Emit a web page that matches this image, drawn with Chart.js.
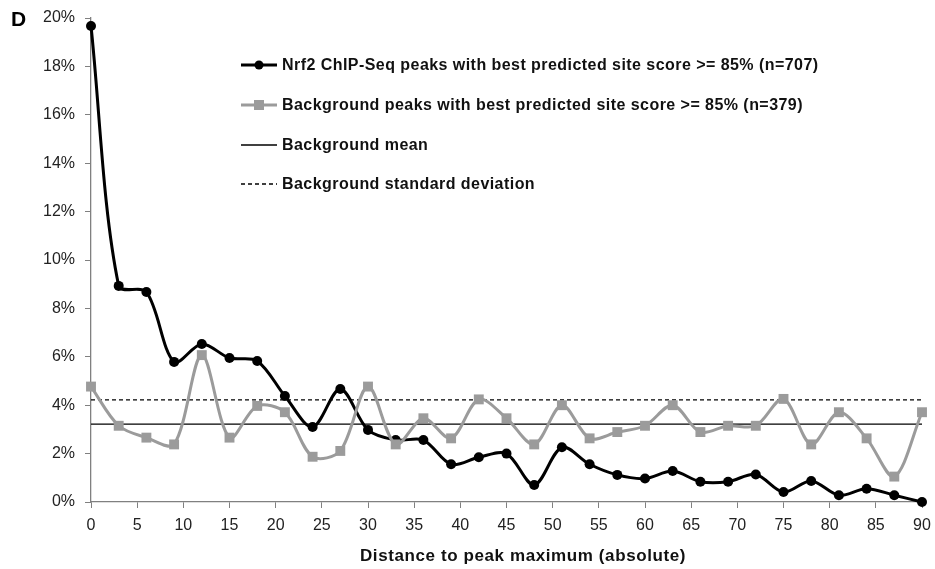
<!DOCTYPE html>
<html>
<head>
<meta charset="utf-8">
<script src="https://cdn.jsdelivr.net/npm/chart.js@4.4.1/dist/chart.umd.min.js"></script>
<style>
  html, body { margin: 0; padding: 0; background: #fff; }
  #wrap { width: 935px; height: 569px; position: relative; }
</style>
</head>
<body>
<div id="wrap"><canvas id="c" width="935" height="569"></canvas></div>
<script>
const distances = [0,3,6,9,12,15,18,21,24,27,30,33,36,39,42,45,48,51,54,57,60,63,66,69,72,75,78,81,84,87,90];
const nrf2Values = [19.67,8.93,8.68,5.79,6.53,5.95,5.83,4.38,3.10,4.67,2.98,2.56,2.56,1.56,1.85,2.00,0.70,2.26,1.56,1.12,0.97,1.28,0.84,0.84,1.14,0.41,0.87,0.28,0.55,0.28,0.00];
const backgroundValues = [4.77,3.15,2.66,2.38,6.07,2.66,3.97,3.71,1.87,2.11,4.77,2.38,3.46,2.63,4.24,3.46,2.38,4.00,2.63,2.89,3.15,4.00,2.89,3.15,3.15,4.26,2.38,3.71,2.63,1.05,3.71];
const backgroundMean = 3.22;
const backgroundSD = 4.22;
const seriesLabels = [
  'Nrf2 ChIP-Seq peaks with best predicted site score >= 85% (n=707)',
  'Background peaks with best predicted site score >= 85% (n=379)',
  'Background mean',
  'Background standard deviation'
];
const xTitle = 'Distance to peak maximum (absolute)';
const panelLetter = 'D';

const toXY = (ys) => ys.map((y, i) => ({ x: distances[i], y }));
const flat = (v) => [{ x: distances[0], y: v }, { x: distances[distances.length - 1], y: v }];

const FONT = '"Liberation Sans", Arial, sans-serif';
const GRAY = '#9b9b9b';

const customLegend = {
  id: 'customLegend',
  afterDraw(chart) {
    const ctx = chart.ctx;
    ctx.save();
    // panel letter
    ctx.font = 'bold 21px ' + FONT;
    ctx.fillStyle = '#000';
    ctx.textBaseline = 'middle';
    ctx.textAlign = 'left';
    ctx.fillText(panelLetter, 11, 20);

    // x axis title
    ctx.font = 'bold 17px ' + FONT;
    ctx.letterSpacing = '0.6px';
    ctx.textAlign = 'center';
    ctx.fillStyle = '#111';
    ctx.fillText(xTitle, 523, 556);

    const x0 = 241, x1 = 277, tx = 282;
    const rows = [65, 105, 145, 184];
    chart.data.datasets.forEach((ds, i) => {
      const y = rows[i];
      ctx.beginPath();
      ctx.setLineDash(ds.borderDash || []);
      ctx.lineWidth = i < 2 ? 3 : 1.3;
      ctx.strokeStyle = ds.borderColor;
      ctx.moveTo(x0, y); ctx.lineTo(x1, y); ctx.stroke();
      ctx.setLineDash([]);
      const cx = (x0 + x1) / 2;
      if (i === 0) {
        ctx.beginPath(); ctx.fillStyle = '#000';
        ctx.arc(cx, y, 4.5, 0, Math.PI * 2); ctx.fill();
      } else if (i === 1) {
        ctx.fillStyle = GRAY;
        ctx.fillRect(cx - 5, y - 5, 10, 10);
      }
      ctx.font = 'bold 16px ' + FONT;
      ctx.letterSpacing = '0.45px';
      ctx.textAlign = 'left';
      ctx.fillStyle = '#111';
      ctx.textBaseline = 'middle';
      ctx.fillText(ds.label, tx, y + 1);
    });
    ctx.letterSpacing = '0px';
    ctx.restore();
  }
};

new Chart(document.getElementById('c'), {
  type: 'line',
  data: {
    datasets: [
      {
        label: seriesLabels[0],
        data: toXY(nrf2Values),
        borderColor: '#000',
        backgroundColor: '#000',
        borderWidth: 3,
        pointStyle: 'circle',
        pointRadius: 5,
        pointBackgroundColor: '#000',
        pointBorderWidth: 0,
        tension: 0.32,
        clip: false,
        order: 1
      },
      {
        label: seriesLabels[1],
        data: toXY(backgroundValues),
        borderColor: GRAY,
        backgroundColor: GRAY,
        borderWidth: 3,
        pointStyle: 'rect',
        pointRadius: 7,
        pointBackgroundColor: GRAY,
        pointBorderWidth: 0,
        tension: 0.32,
        clip: false,
        order: 0
      },
      {
        label: seriesLabels[2],
        data: flat(backgroundMean),
        borderColor: '#000',
        borderWidth: 1.3,
        pointRadius: 0,
        tension: 0,
        clip: false,
        order: 2
      },
      {
        label: seriesLabels[3],
        data: flat(backgroundSD),
        borderColor: '#000',
        borderWidth: 1.3,
        borderDash: [4, 3],
        pointRadius: 0,
        tension: 0,
        clip: false,
        order: 3
      }
    ]
  },
  options: {
    responsive: false,
    animation: false,
    events: [],
    layout: { padding: { left: 0, right: 13, top: 18, bottom: 0 } },
    plugins: { legend: { display: false }, tooltip: { enabled: false } },
    scales: {
      x: {
        type: 'linear',
        min: 0, max: 90,
        grid: { display: true, drawOnChartArea: false, drawTicks: true, tickLength: 6, color: '#808080' },
        border: { color: '#808080', width: 1.3 },
        ticks: { stepSize: 5, color: '#222', font: { family: FONT, size: 16 }, padding: 8, maxRotation: 0 },
        title: { display: false },
        afterFit(scale) { scale.height = 67; scale.paddingRight = 0; scale.paddingLeft = 0; }
      },
      y: {
        min: 0, max: 20,
        grid: { display: true, drawOnChartArea: false, drawTicks: true, tickLength: 6, color: '#808080' },
        border: { color: '#808080', width: 1.3 },
        ticks: { stepSize: 2, color: '#222', font: { family: FONT, size: 16 }, padding: 10, callback: v => v + '%' },
        afterFit(scale) { scale.width = 91; scale.paddingTop = 0; scale.paddingBottom = 0; }
      }
    }
  },
  plugins: [customLegend]
});
</script>
</body>
</html>
